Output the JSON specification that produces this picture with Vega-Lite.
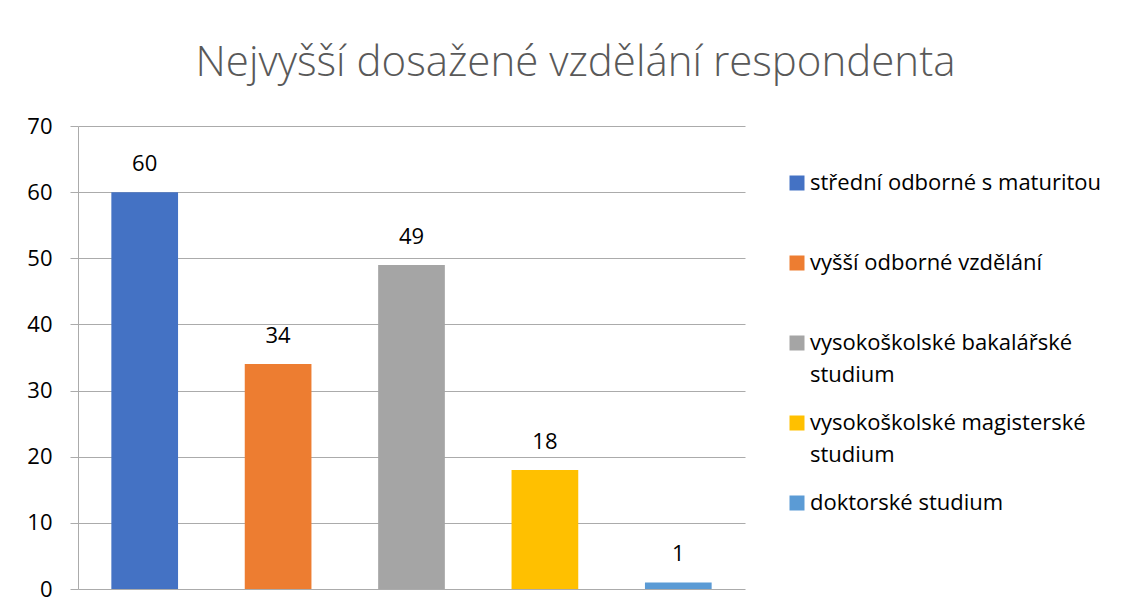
{
  "$schema": "https://vega.github.io/schema/vega-lite/v6.json",
  "width": 667,
  "height": 463,
  "autosize": {"type": "none"},
  "padding": {"left": 78, "top": 126, "right": 387, "bottom": 21},
  "background": "white",
  "title": {
    "text": "Nejvyšší dosažené vzdělání respondenta",
    "font": "Open Sans",
    "fontSize": 42,
    "fontWeight": 300,
    "color": "#595959",
    "anchor": "middle",
    "dx": 164,
    "offset": 30
  },
  "data": {
    "values": [
      {"kategorie": "střední odborné s maturitou", "pocet": 60},
      {"kategorie": "vyšší odborné vzdělání", "pocet": 34},
      {"kategorie": "vysokoškolské bakalářské studium", "pocet": 49},
      {"kategorie": "vysokoškolské magisterské studium", "pocet": 18},
      {"kategorie": "doktorské studium", "pocet": 1}
    ]
  },
  "encoding": {
    "x": {
      "field": "kategorie",
      "type": "nominal",
      "sort": null,
      "axis": null,
      "scale": {"paddingInner": 0.5, "paddingOuter": 0.25}
    },
    "y": {
      "field": "pocet",
      "type": "quantitative",
      "scale": {"domain": [0, 70]},
      "axis": {
        "title": null,
        "values": [0, 10, 20, 30, 40, 50, 60, 70],
        "grid": true,
        "gridColor": "#ABABAB",
        "gridWidth": 1,
        "domainColor": "#ABABAB",
        "tickColor": "#ABABAB",
        "tickSize": 8,
        "labelPadding": 18,
        "labelFont": "Open Sans",
        "labelFontSize": 22,
        "labelColor": "#000000"
      }
    }
  },
  "layer": [
    {
      "mark": {"type": "bar"},
      "encoding": {
        "color": {
          "field": "kategorie",
          "type": "nominal",
          "scale": {
            "domain": ["střední odborné s maturitou", "vyšší odborné vzdělání", "vysokoškolské bakalářské studium", "vysokoškolské magisterské studium", "doktorské studium"],
            "range": ["#4472C4", "#ED7D31", "#A5A5A5", "#FFC000", "#5B9BD5"]
          },
          "legend": {
            "title": null,
            "orient": "none",
            "legendX": 708,
            "legendY": 46,
            "symbolType": "square",
            "symbolSize": 225,
            "symbolStrokeWidth": 0,
            "labelFont": "Open Sans",
            "labelFontSize": 22,
            "labelColor": "#000000",
            "labelLimit": 400,
            "labelOffset": 2,
            "rowPadding": 26,
            "labelExpr": "indexof(datum.label, 'vysokoškolské') == 0 ? [slice(datum.label, 0, lastindexof(datum.label, ' ')), 'studium'] : [datum.label, '']"
          }
        }
      }
    },
    {
      "mark": {"type": "text", "baseline": "bottom", "dy": -16, "font": "Open Sans", "fontSize": 22, "color": "#000000"},
      "encoding": {"text": {"field": "pocet", "type": "quantitative"}}
    }
  ],
  "config": {
    "view": {"stroke": null},
    "style": {"guide-label": {"lineHeight": 32}}
  }
}
